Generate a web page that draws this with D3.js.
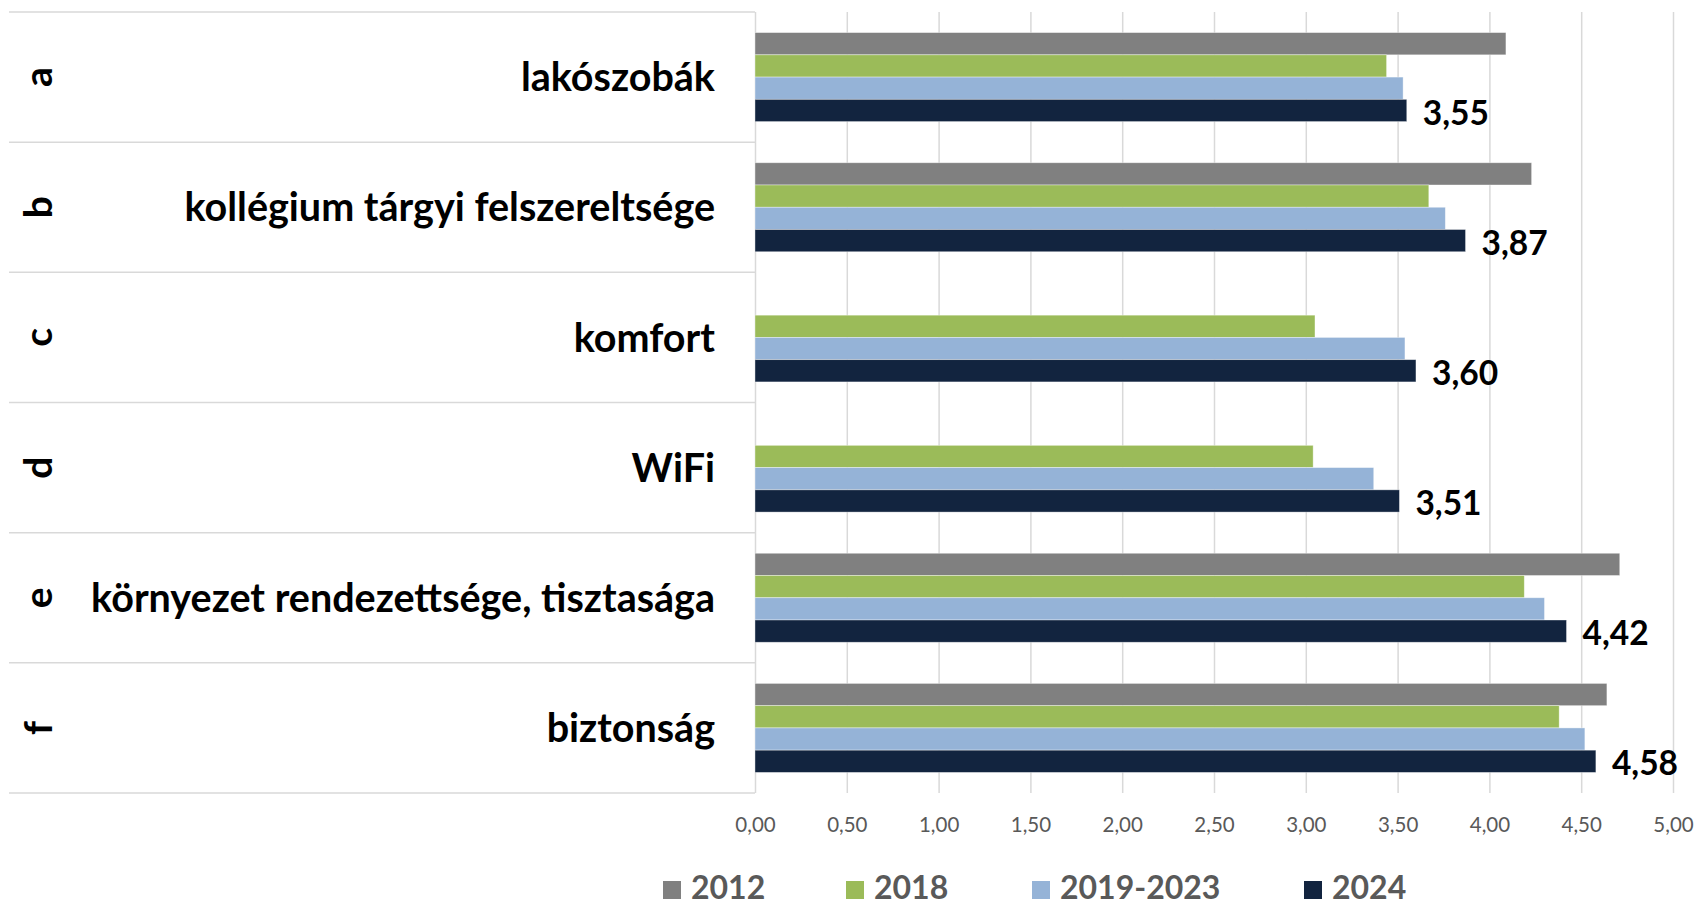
<!DOCTYPE html>
<html>
<head>
<meta charset="utf-8">
<script src="https://cdn.jsdelivr.net/npm/d3@7"></script>
<style>
  body { margin: 0; background: #fff; }
  svg { display: block; font-family: Lato, "Open Sans", sans-serif; }
</style>
</head>
<body>
<svg id="chart" width="1698" height="906"></svg>
<script>
// ---- data ----
var letters = ["a", "b", "c", "d", "e", "f"];
var categories = ["lakószobák", "kollégium tárgyi felszereltsége", "komfort", "WiFi",
  "környezet rendezettsége, tisztasága", "biztonság"];
var seriesNames = ["2012", "2018", "2019-2023", "2024"];
var v2012 = [4.09, 4.23, null, null, 4.71, 4.64];
var v2018 = [3.44, 3.67, 3.05, 3.04, 4.19, 4.38];
var v2019_2023 = [3.53, 3.76, 3.54, 3.37, 4.30, 4.52];
var v2024 = [3.55, 3.87, 3.60, 3.51, 4.42, 4.58];
var xTicks = [0, 0.5, 1, 1.5, 2, 2.5, 3, 3.5, 4, 4.5, 5];

var seriesValues = [v2012, v2018, v2019_2023, v2024];
var colors = ["#808080", "#9BBB59", "#95B3D7", "#12243F"];

var svg = d3.select("#chart"),
  margin = { top: 12, left: 755, right: 25, bottom: 113 },
  width = +svg.attr("width"),
  height = +svg.attr("height");

var tableLeft = 9;

var x = d3.scaleLinear().domain([0, 5]).range([margin.left, width - margin.right]);
var y = d3.scaleBand().domain(d3.range(categories.length))
  .range([margin.top, height - margin.bottom]);
var ys = d3.scaleBand().domain(d3.range(seriesNames.length))
  .range([0, y.bandwidth()]).paddingInner(0).paddingOuter(0.925);

var locale = d3.formatLocale({ decimal: ",", thousands: " ", grouping: [3], currency: ["", ""] });
var fmt = locale.format(".2f");

// gridlines + tick labels
var xAxis = svg.append("g")
  .attr("class", "x-axis")
  .attr("transform", `translate(0,${height - margin.bottom})`)
  .call(d3.axisBottom(x).tickValues(xTicks).tickFormat(fmt)
    .tickSize(-(height - margin.top - margin.bottom)).tickPadding(24));

xAxis.select(".domain").remove();
xAxis.selectAll("line").attr("stroke", "#D9D9D9").attr("stroke-width", 1.5);
xAxis.selectAll("text")
  .attr("fill", "#595959")
  .style("font-size", "20.5px")
  .style("font-family", "Lato, sans-serif");

// table row lines on the left
var bounds = d3.range(categories.length + 1).map(i => i < categories.length ? y(i) : y.range()[1]);
svg.append("g").selectAll("line")
  .data(bounds)
  .enter().append("line")
  .attr("x1", tableLeft)
  .attr("x2", margin.left)
  .attr("y1", d => d)
  .attr("y2", d => d)
  .attr("stroke", "#D9D9D9")
  .attr("stroke-width", 1.5);

// bars
var layer = svg.selectAll("g.layer")
  .data(seriesValues)
  .enter().append("g")
  .attr("class", "layer")
  .attr("fill", (d, i) => colors[i]);

layer.each(function (vals, si) {
  d3.select(this).selectAll("rect")
    .data(vals.map((v, ci) => ({ v: v, ci: ci })).filter(d => d.v != null))
    .enter().append("rect")
    .attr("x", x(0))
    .attr("y", d => y(d.ci) + ys(si))
    .attr("width", d => x(d.v) - x(0))
    .attr("height", ys.bandwidth())
    .attr("stroke", "rgba(255,255,255,0.5)")
    .attr("stroke-width", 0.75);
});

// value labels for 2024
svg.append("g").selectAll("text")
  .data(v2024)
  .enter().append("text")
  .attr("x", d => x(d) + 16)
  .attr("y", (d, i) => y(i) + ys(3) + ys.bandwidth() / 2 + 2)
  .attr("dy", "0.36em")
  .style("font-size", "33.5px")
  .style("font-weight", "bold")
  .attr("fill", "#000")
  .text(d => fmt(d));

// category labels
svg.append("g").selectAll("text")
  .data(categories)
  .enter().append("text")
  .attr("x", 715)
  .attr("y", (d, i) => y(i) + y.bandwidth() / 2)
  .attr("dy", "0.36em")
  .attr("text-anchor", "end")
  .style("font-size", "39.5px")
  .style("font-weight", "bold")
  .attr("fill", "#000")
  .text(d => d);

// outer letters, rotated
svg.append("g").selectAll("text")
  .data(letters)
  .enter().append("text")
  .attr("transform", (d, i) => `translate(52,${y(i) + y.bandwidth() / 2}) rotate(-90)`)
  .attr("text-anchor", "middle")
  .style("font-size", "39px")
  .style("font-weight", "bold")
  .attr("fill", "#000")
  .text(d => d);

// legend
var legendX = [663, 846, 1032, 1304];
var legend = svg.append("g")
  .selectAll("g")
  .data(seriesNames)
  .enter().append("g")
  .attr("transform", (d, i) => `translate(${legendX[i]},888)`);

legend.append("rect")
  .attr("y", -7)
  .attr("width", 18)
  .attr("height", 18)
  .attr("fill", (d, i) => colors[i]);

legend.append("text")
  .attr("x", 28)
  .attr("y", 11)
  .style("font-size", "32px")
  .style("font-weight", "bold")
  .attr("fill", "#595959")
  .text(d => d);
</script>
</body>
</html>
